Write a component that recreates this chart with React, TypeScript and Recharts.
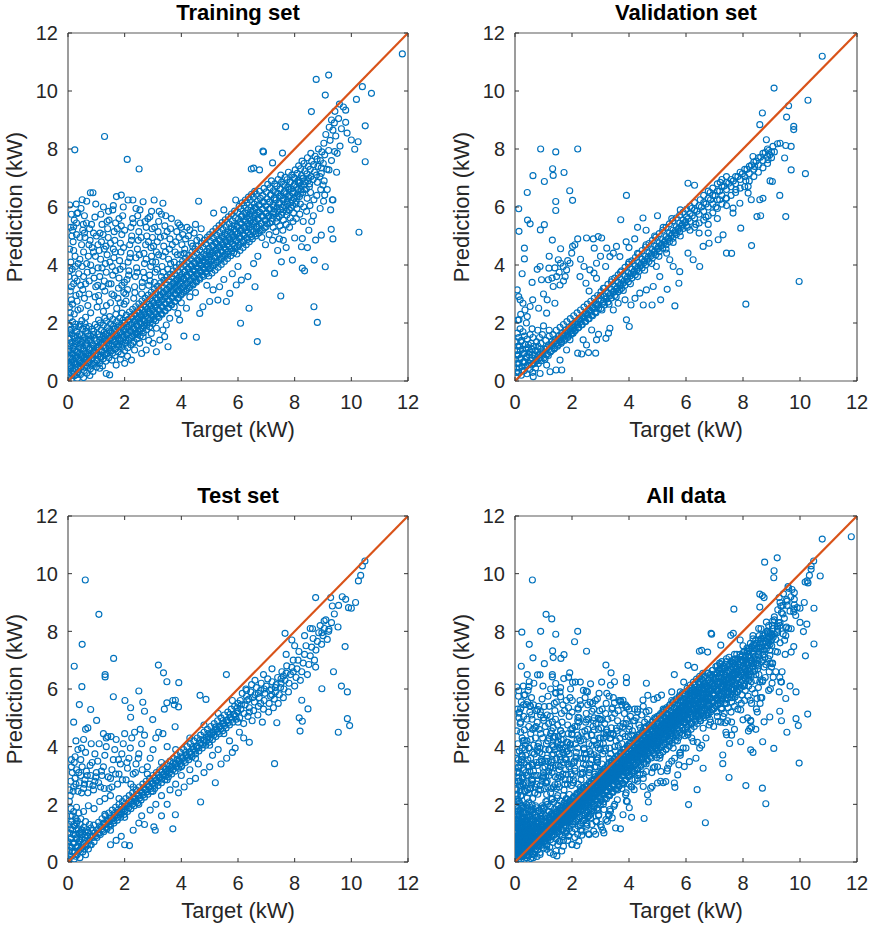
import React from "react";
import { ScatterChart, Scatter, XAxis, YAxis, ReferenceLine } from "recharts";

const AXIS_TICKS = [0, 2, 4, 6, 8, 10, 12];
const AXIS_DOMAIN = [0, 12];
const DIAGONAL = [[0, 0], [12, 12]];
const TITLES = ["Training set", "Validation set", "Test set", "All data"];
const X_LABEL = "Target (kW)";
const Y_LABEL = "Prediction (kW)";

// ---------- Training set ----------
const trainingBand = [
  [0.02,0.12],[0.04,0.38],[0.03,0.61],[0.06,0.84],[0.02,1.02],[0.05,1.21],[0.03,1.44],[0.08,1.66],[0.04,1.93],[0.07,2.18],
  [0.11,0.05],[0.13,0.27],[0.1,0.52],[0.15,0.73],[0.12,0.95],[0.17,1.12],[0.14,1.33],[0.19,1.55],[0.11,1.78],[0.16,2.04],
  [0.22,0.18],[0.24,0.43],[0.21,0.66],[0.26,0.88],[0.23,1.07],[0.28,1.28],[0.25,1.49],[0.3,1.71],[0.27,1.96],[0.22,2.31],
  [0.33,0.09],[0.35,0.32],[0.32,0.57],[0.37,0.79],[0.34,0.99],[0.39,1.19],[0.36,1.41],[0.41,1.62],[0.38,1.87],[0.35,2.45],
  [0.44,0.22],[0.46,0.47],[0.43,0.69],[0.48,0.92],[0.45,1.13],[0.5,1.34],[0.47,1.56],[0.52,1.8],[0.49,2.08],
  [0.55,0.12],[0.57,0.36],[0.54,0.6],[0.59,0.83],[0.56,1.04],[0.61,1.26],[0.58,1.49],[0.63,1.72],[0.6,1.98],
  [0.66,0.27],[0.68,0.51],[0.65,0.74],[0.7,0.97],[0.67,1.18],[0.72,1.4],[0.69,1.63],[0.74,1.88],
  [0.77,0.19],[0.79,0.42],[0.76,0.66],[0.81,0.88],[0.78,1.1],[0.83,1.32],[0.8,1.55],[0.85,1.79],
  [0.88,0.33],[0.9,0.57],[0.87,0.8],[0.92,1.02],[0.89,1.24],[0.94,1.47],[0.91,1.71],[0.96,1.95],
  [1.0,0.48],[1.02,0.72],[0.99,0.95],[1.04,1.17],[1.01,1.39],[1.06,1.62],[1.03,1.86],[1.08,2.1],
  [1.11,0.6],[1.13,0.84],[1.1,1.07],[1.15,1.3],[1.12,1.52],[1.17,1.76],[1.14,2.0],
  [1.22,0.52],[1.24,0.77],[1.21,1.0],[1.26,1.22],[1.23,1.45],[1.28,1.68],[1.25,1.92],[1.3,2.17],
  [1.33,0.68],[1.35,0.92],[1.32,1.14],[1.37,1.37],[1.34,1.6],[1.39,1.84],[1.36,2.07],
  [1.44,0.8],[1.46,1.04],[1.43,1.27],[1.48,1.5],[1.45,1.73],[1.5,1.97],[1.47,2.22],
  [1.55,0.72],[1.57,0.96],[1.54,1.19],[1.59,1.42],[1.56,1.65],[1.61,1.89],[1.58,2.12],
  [1.66,0.88],[1.68,1.12],[1.65,1.35],[1.7,1.58],[1.67,1.81],[1.72,2.05],[1.69,2.3],
  [1.77,1.0],[1.79,1.24],[1.76,1.47],[1.81,1.7],[1.78,1.93],[1.83,2.17],
  [1.88,0.92],[1.9,1.16],[1.87,1.39],[1.92,1.62],[1.89,1.85],[1.94,2.09],[1.91,2.34],
  [2.0,1.05],[2.02,1.3],[1.99,1.54],[2.04,1.78],[2.01,2.02],[2.06,2.27],
  [2.11,1.15],[2.13,1.4],[2.1,1.64],[2.15,1.88],[2.12,2.12],[2.17,2.38],
  [2.22,1.25],[2.24,1.5],[2.21,1.74],[2.26,1.98],[2.23,2.22],[2.28,2.47],
  [2.33,1.36],[2.35,1.6],[2.32,1.84],[2.37,2.08],[2.34,2.32],[2.39,2.56],
  [2.44,1.46],[2.46,1.7],[2.43,1.94],[2.48,2.18],[2.45,2.42],[2.5,2.66],
  [2.55,1.56],[2.57,1.8],[2.54,2.04],[2.59,2.28],[2.56,2.52],[2.61,2.76],
  [2.66,1.66],[2.68,1.9],[2.65,2.14],[2.7,2.38],[2.67,2.62],[2.72,2.86],
  [2.77,1.77],[2.79,2.01],[2.76,2.25],[2.81,2.49],[2.78,2.73],[2.83,2.96],
  [2.88,1.87],[2.9,2.11],[2.87,2.35],[2.92,2.59],[2.89,2.83],[2.94,3.06],
  [2.99,1.98],[3.01,2.22],[2.98,2.46],[3.03,2.7],[3.0,2.94],[3.05,3.16],
  [3.1,2.08],[3.12,2.32],[3.09,2.56],[3.14,2.8],[3.11,3.04],[3.16,3.27],
  [3.21,2.19],[3.23,2.43],[3.2,2.67],[3.25,2.91],[3.22,3.15],[3.27,3.38],
  [3.32,2.3],[3.34,2.54],[3.31,2.78],[3.36,3.02],[3.33,3.26],[3.38,3.48],
  [3.43,2.41],[3.45,2.65],[3.42,2.89],[3.47,3.13],[3.44,3.37],[3.49,3.59],
  [3.54,2.52],[3.56,2.76],[3.53,3.0],[3.58,3.24],[3.55,3.48],[3.6,3.69],
  [3.65,2.63],[3.67,2.87],[3.64,3.11],[3.69,3.35],[3.66,3.59],[3.71,3.8],
  [3.76,2.74],[3.78,2.98],[3.75,3.22],[3.8,3.46],[3.77,3.7],[3.82,3.91],
  [3.87,2.85],[3.89,3.09],[3.86,3.33],[3.91,3.57],[3.88,3.81],[3.93,4.02],
  [3.98,2.96],[4.0,3.2],[3.97,3.44],[4.02,3.68],[3.99,3.92],[4.04,4.12],
  [4.09,3.06],[4.11,3.3],[4.08,3.54],[4.13,3.78],[4.1,4.02],[4.15,4.23],
  [4.2,3.16],[4.22,3.4],[4.19,3.64],[4.24,3.88],[4.21,4.12],[4.26,4.33],
  [4.31,3.26],[4.33,3.5],[4.3,3.74],[4.35,3.98],[4.32,4.22],[4.37,4.44],
  [4.42,3.36],[4.44,3.6],[4.41,3.84],[4.46,4.08],[4.43,4.32],[4.48,4.55],
  [4.53,3.46],[4.55,3.7],[4.52,3.94],[4.57,4.18],[4.54,4.42],[4.59,4.65],
  [4.64,3.56],[4.66,3.8],[4.63,4.04],[4.68,4.28],[4.65,4.52],[4.7,4.76],
  [4.75,3.66],[4.77,3.9],[4.74,4.14],[4.79,4.38],[4.76,4.62],[4.81,4.86],
  [4.86,3.76],[4.88,4.0],[4.85,4.24],[4.9,4.48],[4.87,4.72],[4.92,4.96],
  [4.97,3.62],[4.99,3.86],[4.96,4.1],[5.01,4.34],[4.98,4.58],[5.03,4.82],[5.0,5.05],
  [5.08,3.72],[5.1,3.96],[5.07,4.2],[5.12,4.44],[5.09,4.68],[5.14,4.92],[5.11,5.15],
  [5.19,3.82],[5.21,4.06],[5.18,4.3],[5.23,4.54],[5.2,4.78],[5.25,5.02],[5.22,5.26],
  [5.3,3.92],[5.32,4.16],[5.29,4.4],[5.34,4.64],[5.31,4.88],[5.36,5.12],[5.33,5.36],
  [5.41,4.02],[5.43,4.26],[5.4,4.5],[5.45,4.74],[5.42,4.98],[5.47,5.22],[5.44,5.46],
  [5.52,4.12],[5.54,4.36],[5.51,4.6],[5.56,4.84],[5.53,5.08],[5.58,5.32],[5.55,5.56],
  [5.63,4.22],[5.65,4.46],[5.62,4.7],[5.67,4.94],[5.64,5.18],[5.69,5.42],[5.66,5.66],
  [5.74,4.32],[5.76,4.56],[5.73,4.8],[5.78,5.04],[5.75,5.28],[5.8,5.52],[5.77,5.76],
  [5.85,4.42],[5.87,4.66],[5.84,4.9],[5.89,5.14],[5.86,5.38],[5.91,5.62],[5.88,5.86],
  [5.96,4.38],[5.98,4.62],[5.95,4.86],[6.0,5.1],[5.97,5.34],[6.02,5.58],[5.99,5.82],[6.04,6.02],
  [6.07,4.5],[6.09,4.74],[6.06,4.98],[6.11,5.22],[6.08,5.46],[6.13,5.7],[6.1,5.94],[6.15,6.14],
  [6.18,4.6],[6.2,4.84],[6.17,5.08],[6.22,5.32],[6.19,5.56],[6.24,5.8],[6.21,6.04],[6.26,6.24],
  [6.29,4.7],[6.31,4.94],[6.28,5.18],[6.33,5.42],[6.3,5.66],[6.35,5.9],[6.32,6.14],[6.37,6.34],
  [6.4,4.8],[6.42,5.04],[6.39,5.28],[6.44,5.52],[6.41,5.76],[6.46,6.0],[6.43,6.24],[6.48,6.44],
  [6.51,4.9],[6.53,5.14],[6.5,5.38],[6.55,5.62],[6.52,5.86],[6.57,6.1],[6.54,6.34],[6.59,6.54],
  [6.62,5.0],[6.64,5.24],[6.61,5.48],[6.66,5.72],[6.63,5.96],[6.68,6.2],[6.65,6.44],
  [6.73,5.1],[6.75,5.34],[6.72,5.58],[6.77,5.82],[6.74,6.06],[6.79,6.3],[6.76,6.54],
  [6.84,4.95],[6.86,5.2],[6.83,5.44],[6.88,5.68],[6.85,5.92],[6.9,6.16],[6.87,6.4],[6.92,6.64],
  [6.97,4.7],[6.99,5.32],[6.96,5.56],[7.01,5.8],[6.98,6.04],[7.03,6.28],[7.0,6.52],[7.05,6.78],
  [7.1,5.05],[7.12,5.45],[7.09,5.7],[7.14,5.94],[7.11,6.18],[7.16,6.42],[7.13,6.66],[7.18,6.9],
  [7.22,4.85],[7.24,5.3],[7.21,5.6],[7.26,5.84],[7.23,6.08],[7.28,6.32],[7.25,6.56],[7.3,6.8],
  [7.34,5.15],[7.36,5.5],[7.33,5.76],[7.38,6.0],[7.35,6.24],[7.4,6.48],[7.37,6.72],[7.42,6.95],
  [7.46,4.9],[7.48,5.35],[7.45,5.66],[7.5,5.9],[7.47,6.14],[7.52,6.38],[7.49,6.62],[7.54,6.86],[7.51,7.1],
  [7.58,5.2],[7.6,5.55],[7.57,5.82],[7.62,6.06],[7.59,6.3],[7.64,6.54],[7.61,6.78],[7.66,7.02],
  [7.7,5.4],[7.72,5.72],[7.69,5.98],[7.74,6.22],[7.71,6.46],[7.76,6.7],[7.73,6.94],[7.78,7.2],
  [7.82,5.3],[7.84,5.62],[7.81,5.9],[7.86,6.14],[7.83,6.38],[7.88,6.62],[7.85,6.86],[7.9,7.1],
  [7.94,5.5],[7.96,5.8],[7.93,6.06],[7.98,6.3],[7.95,6.54],[8.0,6.78],[7.97,7.02],[8.02,7.28],
  [8.06,5.6],[8.08,5.95],[8.05,6.2],[8.1,6.44],[8.07,6.68],[8.12,6.92],[8.09,7.16],[8.14,7.42],
  [8.18,5.75],[8.2,6.1],[8.17,6.36],[8.22,6.6],[8.19,6.84],[8.24,7.08],[8.21,7.32],[8.26,7.58],
  [8.3,5.5],[8.32,6.0],[8.29,6.5],[8.34,6.76],[8.31,7.0],[8.36,7.24],[8.33,7.5],
  [8.42,5.85],[8.44,6.3],[8.41,6.62],[8.46,6.9],[8.43,7.14],[8.48,7.4],[8.45,7.7],
  [8.54,6.05],[8.56,6.5],[8.53,6.8],[8.58,7.05],[8.55,7.3],[8.6,7.58],[8.57,7.85],
  [8.66,5.7],[8.68,6.25],[8.65,6.95],[8.7,7.2],[8.67,7.46],[8.72,7.75],
  [8.78,6.4],[8.8,6.85],[8.77,7.1],[8.82,7.4],[8.79,7.65],[8.84,8.0],
  [8.9,5.95],[8.92,6.6],[8.89,7.05],[8.94,7.35],[8.91,7.6],[8.96,7.9],
  [9.02,6.2],[9.04,6.9],[9.01,7.5],[9.06,7.8],[9.03,8.2],[9.1,8.5],[9.14,7.3],
  [9.2,7.95],[9.25,8.3],[9.3,7.6],[9.35,8.65],[9.4,8.9],[9.45,8.45],[9.5,7.85],[9.55,9.05],[9.42,9.3],
  [9.6,8.1],[9.65,8.7],[9.3,9.0],[9.22,8.75],[9.15,6.6],[9.33,6.25],[9.48,7.2],[9.72,9.45],[9.85,8.55],[9.58,9.55],
];

const trainingCore = [
  [0.03,0.28],[0.06,0.52],[0.09,0.78],[0.04,1.08],[0.07,1.31],[0.1,0.42],[0.13,0.66],[0.17,0.93],[0.2,1.21],[0.18,0.33],
  [0.24,0.58],[0.27,0.79],[0.3,1.02],[0.26,1.36],[0.31,0.22],[0.35,0.47],[0.38,0.71],[0.41,0.93],[0.44,1.27],[0.47,0.61],
  [0.5,0.83],[0.53,1.12],[0.57,0.48],[0.6,0.71],[0.63,0.95],[0.66,1.31],[0.7,0.63],[0.73,0.86],[0.76,1.08],[0.79,1.42],
  [0.82,0.55],[0.85,0.77],[0.88,0.99],[0.91,1.2],[0.94,0.62],[0.97,0.88],[0.99,1.13],[0.15,1.62],[0.33,1.55],[0.52,1.4],
  [0.72,1.55],[0.9,1.6],[0.06,1.75],[0.24,1.85],[0.43,1.95],[0.64,1.85],
  [1.03,0.7],[1.06,0.93],[1.09,1.18],[1.12,1.41],[1.16,0.82],[1.19,1.06],[1.22,1.3],[1.25,1.55],[1.29,0.9],[1.32,1.16],
  [1.35,1.42],[1.38,1.64],[1.41,0.96],[1.44,1.21],[1.47,1.45],[1.5,1.7],[1.53,1.04],[1.56,1.29],[1.6,1.54],[1.63,1.78],
  [1.66,1.1],[1.69,1.37],[1.72,1.62],[1.75,1.86],[1.78,1.17],[1.81,1.42],[1.84,1.66],[1.87,1.92],[1.9,1.27],[1.93,1.5],
  [1.96,1.74],[1.99,1.99],
  [2.03,1.4],[2.06,1.63],[2.09,1.86],[2.12,2.1],[2.16,1.48],[2.19,1.72],[2.22,1.95],[2.25,2.2],[2.28,1.56],[2.31,1.8],
  [2.34,2.04],[2.37,2.29],[2.41,1.64],[2.44,1.89],[2.47,2.13],[2.5,2.37],[2.53,1.73],[2.56,1.98],[2.59,2.22],[2.62,2.46],
  [2.65,1.82],[2.68,2.06],[2.71,2.31],[2.74,2.55],[2.78,1.92],[2.81,2.16],[2.84,2.4],[2.87,2.64],[2.9,2.01],[2.93,2.26],
  [2.96,2.5],[2.99,2.74],
  [3.03,2.13],[3.06,2.37],[3.09,2.62],[3.12,2.86],[3.16,2.22],[3.19,2.46],[3.22,2.71],[3.25,2.96],[3.28,2.32],[3.31,2.57],
  [3.34,2.81],[3.37,3.06],[3.41,2.43],[3.44,2.67],[3.47,2.92],[3.5,3.16],[3.53,2.53],[3.56,2.78],[3.59,3.02],[3.62,3.27],
  [3.65,2.64],[3.68,2.88],[3.71,3.13],[3.74,3.37],[3.78,2.74],[3.81,2.99],[3.84,3.23],[3.87,3.48],[3.9,2.85],[3.93,3.1],
  [3.96,3.34],[3.99,3.58],
  [4.03,3.02],[4.06,3.26],[4.09,3.51],[4.12,3.75],[4.16,3.11],[4.19,3.36],[4.22,3.6],[4.25,3.85],[4.28,3.21],[4.31,3.46],
  [4.34,3.7],[4.37,3.95],[4.41,3.31],[4.44,3.56],[4.47,3.8],[4.5,4.05],[4.53,3.41],[4.56,3.66],[4.59,3.9],[4.62,4.15],
  [4.65,3.51],[4.68,3.76],[4.71,4.0],[4.74,4.25],[4.78,3.61],[4.81,3.86],[4.84,4.1],[4.87,4.35],[4.9,3.71],[4.93,3.96],
  [4.96,4.2],[4.99,4.45],
  [5.03,3.92],[5.06,4.16],[5.09,4.41],[5.12,4.65],[5.16,4.0],[5.19,4.25],[5.22,4.5],[5.25,4.74],[5.28,4.1],[5.31,4.35],
  [5.34,4.6],[5.37,4.85],[5.41,4.2],[5.44,4.45],[5.47,4.7],[5.5,4.95],[5.53,4.3],[5.56,4.55],[5.59,4.8],[5.62,5.05],
  [5.65,4.38],[5.68,4.63],[5.71,4.88],[5.74,5.13],[5.78,4.48],[5.81,4.73],[5.84,4.98],[5.87,5.23],[5.9,4.57],[5.93,4.82],
  [5.96,5.07],[5.99,5.32],
  [6.03,4.68],[6.06,4.92],[6.09,5.17],[6.12,5.42],[6.15,5.67],[6.18,4.78],[6.21,5.03],[6.24,5.28],[6.27,5.53],[6.3,5.78],
  [6.33,4.88],[6.36,5.13],[6.39,5.38],[6.42,5.63],[6.45,5.88],[6.48,4.98],[6.51,5.23],[6.54,5.48],[6.57,5.73],[6.6,5.98],
  [6.63,5.08],[6.66,5.33],[6.69,5.58],[6.72,5.83],[6.75,6.08],[6.78,5.18],[6.81,5.43],[6.84,5.68],[6.87,5.93],[6.9,6.18],
  [6.93,5.28],[6.96,5.53],[6.99,5.78],
  [7.03,5.42],[7.06,5.67],[7.09,5.92],[7.12,6.17],[7.15,6.42],[7.2,5.5],[7.23,5.75],[7.26,6.0],[7.29,6.25],[7.32,6.5],
  [7.37,5.62],[7.4,5.87],[7.43,6.12],[7.46,6.37],[7.49,6.62],[7.54,5.74],[7.57,5.99],[7.6,6.24],[7.63,6.49],[7.66,6.74],
  [7.71,5.85],[7.74,6.1],[7.77,6.35],[7.8,6.6],[7.83,6.85],[7.88,5.98],[7.91,6.23],[7.94,6.48],[7.97,6.73],[8.0,6.98],
  [8.05,6.1],[8.08,6.35],[8.11,6.6],[8.14,6.85],[8.2,6.45],[8.23,6.72],[8.27,6.98],[8.35,6.6],[8.38,6.88],[8.5,7.0],[8.52,6.7],
];

const trainingCloud = [
  [0.05,2.55],[0.12,2.8],[0.08,3.1],[0.2,3.35],[0.03,3.6],[0.15,3.85],[0.1,4.1],[0.25,4.3],[0.06,4.55],[0.18,4.8],
  [0.3,5.05],[0.09,5.3],[0.22,5.55],[0.35,5.8],[0.4,3.0],[0.45,3.3],[0.38,3.7],[0.5,3.95],[0.42,4.2],[0.55,4.45],
  [0.48,4.7],[0.6,4.95],[0.52,5.2],[0.65,5.45],[0.58,5.7],[0.7,2.6],[0.75,3.45],[0.68,3.75],[0.8,4.0],[0.72,4.3],
  [0.85,4.6],[0.78,4.85],[0.9,5.1],[0.83,5.4],[0.95,5.65],[0.98,3.25],[0.92,3.55],[0.62,2.2],[0.32,2.75],[0.26,3.95],
  [0.14,5.0],[0.46,5.95],[0.66,6.2],[0.55,3.6],[0.97,4.3],
  [1.03,2.55],[1.08,2.95],[1.05,3.3],[1.12,3.6],[1.06,3.9],[1.15,4.2],[1.1,4.5],[1.18,4.8],[1.13,5.1],[1.2,5.4],
  [1.16,5.75],[1.25,2.4],[1.3,3.1],[1.28,3.45],[1.35,3.75],[1.32,4.05],[1.38,4.35],[1.34,4.65],[1.42,4.95],[1.4,5.25],
  [1.45,5.55],[1.43,5.85],[1.5,2.7],[1.55,3.0],[1.52,3.35],[1.58,3.65],[1.56,3.95],[1.62,4.25],[1.6,4.55],[1.65,4.85],
  [1.63,5.15],[1.68,5.45],[1.72,2.5],[1.76,2.85],[1.78,3.2],[1.8,3.55],[1.84,3.85],[1.82,4.15],[1.87,4.45],[1.85,4.75],
  [1.9,5.05],[1.88,5.35],[1.93,5.7],[1.95,6.0],[1.98,2.65],[1.97,3.05],[1.99,3.4],
  [2.05,2.75],[2.1,3.15],[2.08,3.5],[2.15,3.8],[2.12,4.1],[2.2,4.4],[2.18,4.7],[2.25,5.0],[2.22,5.3],[2.28,5.6],
  [2.32,2.85],[2.35,3.25],[2.38,3.6],[2.42,3.9],[2.4,4.25],[2.45,4.55],[2.48,4.85],[2.5,5.15],[2.55,5.45],[2.54,5.9],
  [2.6,3.0],[2.62,3.4],[2.66,3.75],[2.7,4.05],[2.68,4.4],[2.74,4.7],[2.78,5.0],[2.76,5.3],[2.82,5.6],[2.89,5.66],
  [2.85,3.3],[2.88,3.65],[2.92,3.95],[2.95,4.3],[2.93,4.6],[2.98,4.95],[2.97,5.25],
  [3.05,3.4],[3.08,3.75],[3.1,4.1],[3.12,4.45],[3.15,4.8],[3.18,5.15],[3.2,5.5],[3.22,5.85],[3.3,3.6],[3.32,3.95],
  [3.35,4.3],[3.38,4.65],[3.4,5.0],[3.42,5.35],[3.45,5.7],[3.52,3.85],[3.55,4.2],[3.58,4.55],[3.6,4.9],[3.62,5.25],
  [3.65,5.6],[3.75,4.1],[3.78,4.45],[3.8,4.8],[3.84,5.15],[3.88,5.45],[3.94,5.38],[3.98,4.35],[4.02,4.7],[4.05,5.05],
  [4.12,4.55],[4.15,4.9],[4.2,5.3],[4.3,5.21],[4.35,4.75],[4.45,5.1],[4.5,5.4],[4.7,5.25],[4.65,4.95],
  [0.08,2.35],[0.16,2.65],[0.28,2.95],[0.12,3.25],[0.24,3.55],[0.06,3.8],[0.32,3.45],[0.44,2.5],[0.58,2.85],[0.52,3.15],
  [0.36,4.05],[0.2,4.5],[0.42,4.95],[0.16,5.2],[0.62,3.35],[0.74,3.0],[0.66,4.05],[0.86,3.8],[0.8,2.35],[0.96,2.9],
  [0.9,4.45],[0.74,4.7],[0.58,5.1],[0.3,5.45],[0.12,5.75],[0.54,5.4],[0.76,5.25],[1.0,5.0],[1.1,2.75],[1.22,3.25],
  [1.2,3.9],[1.28,4.55],[1.06,4.7],[1.24,5.05],[1.36,2.6],[1.44,3.35],[1.48,4.1],[1.5,4.75],[1.38,5.5],[1.62,2.95],
  [1.68,3.8],[1.66,4.45],[1.74,5.25],[1.58,5.9],[1.84,2.7],[1.9,3.3],[1.94,3.95],[1.96,4.6],[2.0,5.2],[1.8,5.6],
  [2.04,3.0],[2.14,3.65],[2.18,4.25],[2.24,4.85],[2.3,5.45],[2.36,3.05],[2.44,3.75],[2.52,4.35],[2.58,4.95],[2.46,5.7],
  [2.62,3.25],[2.7,3.55],[2.76,4.2],[2.84,4.8],[2.72,5.5],[2.9,3.45],[2.98,4.1],[3.02,4.65],[3.06,5.3],[3.14,3.85],
  [3.2,4.35],[3.26,4.95],[3.36,3.75],[3.44,4.45],[3.5,5.15],[3.62,4.05],[3.68,4.7],[3.86,4.35],[3.92,4.95],[4.1,4.4],
  [4.25,5.0],[4.4,4.65],[4.55,4.85],[4.0,5.3],[3.3,5.75],[2.95,5.85],[2.4,5.95],[1.6,6.05],[1.25,6.0],[0.98,6.1],[0.5,6.25],
];

const trainingLower = [
  [2.0,0.61],[2.24,0.72],[2.35,1.07],[2.76,1.07],[3.0,1.3],[3.12,1.01],[3.24,1.41],[3.41,1.53],[3.53,1.18],[3.35,1.76],
  [3.47,1.93],[3.12,1.82],[2.94,1.64],[2.65,1.53],[2.53,1.3],[2.29,1.3],[3.59,2.16],[3.88,2.33],[3.94,2.1],[4.18,2.51],
  [4.65,2.33],[4.76,2.56],[5.0,2.74],[5.29,2.79],[5.59,2.74],[5.71,3.02],[5.94,3.31],[6.12,3.48],[6.35,3.6],[5.35,3.25],
  [5.12,3.14],[1.35,0.26],[1.47,0.21],[1.12,0.44],[1.7,0.55],[1.85,0.75],[2.1,0.85],[2.6,0.95],[2.45,1.6],[2.85,1.4],
  [4.3,2.9],[4.5,3.05],[4.9,3.3],[5.5,3.5],[5.8,3.7],[6.0,3.95],[6.55,4.05],[6.7,4.3],[6.6,3.25],[4.0,2.7],[3.75,2.55],
];

const trainingOutliers = [
  [0.24,7.97],[1.29,8.43],[2.09,7.64],[2.51,7.31],[0.06,6.07],[0.29,6.1],[0.32,5.78],[0.2,5.32],[0.88,6.49],[0.79,6.49],
  [1.71,6.36],[1.88,6.41],[2.12,6.24],[2.29,6.24],[2.65,6.18],[3.04,6.24],[3.35,6.13],[4.61,6.2],[8.59,9.29],[8.76,10.4],
  [9.2,10.55],[9.08,9.86],[10.18,9.71],[10.39,10.15],[10.71,9.92],[11.8,11.28],[7.68,8.77],[9.8,9.34],[9.8,8.92],[10.49,8.8],
  [10.0,8.31],[10.24,8.25],[10.12,7.99],[10.49,7.56],[6.88,7.93],[6.76,7.28],[6.47,7.31],[6.55,7.34],[6.9,7.9],[7.22,7.52],
  [7.57,7.86],[9.41,7.91],[4.09,1.55],[4.53,1.51],[6.09,1.99],[6.39,2.51],[6.68,1.36],[7.51,2.93],[8.68,2.56],[8.8,2.02],
  [7.29,3.71],[8.27,3.89],[8.35,3.8],[9.08,3.94],[8.69,4.17],[9.29,5.23],[9.35,4.9],[10.27,5.13],[8.94,5.03],[8.74,4.86],
  [8.27,4.91],[8.0,4.93],[8.24,4.63],[7.92,4.17],[7.53,4.11],[9.27,5.9],[9.35,6.24],[9.06,6.41],[8.94,7.16],[9.0,6.76],
  [9.21,7.28],[5.92,6.24],[5.14,5.79],[5.5,5.9],[7.4,4.5],[7.7,4.6],[7.6,4.85],[8.5,5.2],[8.6,5.5],[8.45,4.6],
];

// ---------- Validation set ----------
const validationBand = [
  [0.03,0.15],[0.05,0.45],[0.02,0.75],[0.07,1.05],[0.04,1.35],[0.08,1.65],[0.12,0.3],[0.14,0.6],[0.11,0.9],[0.16,1.2],
  [0.13,1.5],[0.18,1.8],[0.22,0.2],[0.24,0.5],[0.21,0.8],[0.26,1.1],[0.23,1.4],[0.28,1.7],[0.32,0.35],[0.34,0.65],
  [0.31,0.95],[0.36,1.25],[0.33,1.55],[0.42,0.25],[0.44,0.55],[0.41,0.85],[0.46,1.15],[0.43,1.45],[0.52,0.4],[0.54,0.7],
  [0.51,1.0],[0.56,1.3],[0.53,1.6],[0.62,0.3],[0.64,0.6],[0.61,0.9],[0.66,1.2],[0.63,1.5],[0.72,0.45],[0.74,0.75],
  [0.71,1.05],[0.76,1.35],[0.82,0.6],[0.84,0.9],[0.81,1.2],[0.86,1.5],[0.92,0.7],[0.94,1.0],[0.91,1.3],[0.96,1.6],
  [0.1,2.1],[0.2,2.3],[0.4,2.0],[0.6,1.8],[0.8,1.75],[1.0,1.9],[1.2,1.75],
  [1.02,0.8],[1.05,1.1],[1.08,1.4],[1.15,0.95],[1.18,1.25],[1.2,1.55],[1.28,1.05],[1.3,1.35],[1.33,1.6],[1.4,1.15],
  [1.42,1.45],[1.45,1.75],[1.52,1.25],[1.55,1.55],[1.58,1.85],[1.64,1.35],[1.67,1.65],[1.7,1.95],[1.76,1.45],[1.79,1.75],
  [1.82,2.05],[1.88,1.55],[1.91,1.85],[1.94,2.15],[2.0,1.65],[2.03,1.95],[2.06,2.25],[2.12,1.75],[2.15,2.05],[2.18,2.35],
  [2.24,1.85],[2.27,2.15],[2.3,2.45],[2.36,1.95],[2.39,2.25],[2.42,2.55],[2.48,2.05],[2.51,2.35],[2.54,2.65],[2.6,2.15],
  [2.63,2.45],[2.66,2.75],[2.72,2.25],[2.75,2.55],[2.78,2.85],[2.84,2.35],[2.87,2.65],[2.9,2.95],
  [3.02,2.5],[3.02,2.8],[3.02,3.08],[3.14,2.62],[3.14,2.93],[3.14,3.2],[3.26,2.72],[3.26,3.04],[3.26,3.33],
  [3.38,2.86],[3.38,3.16],[3.38,3.42],[3.5,2.95],[3.5,3.27],[3.5,3.55],[3.62,3.08],[3.62,3.4],[3.62,3.66],
  [3.74,3.2],[3.74,3.5],[3.74,3.8],[3.86,3.3],[3.86,3.62],[3.86,3.92],[3.98,3.42],[3.98,3.73],[3.98,4.03],
  [4.1,3.55],[4.1,3.86],[4.1,4.14],[4.22,3.66],[4.22,3.97],[4.22,4.26],[4.34,3.78],[4.34,4.08],[4.34,4.38],
  [4.46,3.9],[4.46,4.2],[4.46,4.5],[4.58,4.0],[4.58,4.3],[4.58,4.62],[4.7,4.12],[4.7,4.42],[4.7,4.74],
  [4.82,4.24],[4.82,4.53],[4.82,4.85],[4.94,4.35],[4.94,4.65],[4.94,4.96],[5.06,4.46],[5.06,4.76],[5.06,5.08],
  [5.18,4.58],[5.18,4.87],[5.18,5.2],[5.3,4.7],[5.3,4.98],[5.3,5.3],[5.42,4.8],[5.42,5.1],[5.42,5.42],
  [5.54,4.92],[5.54,5.2],[5.54,5.52],[5.66,5.05],[5.66,5.32],[5.66,5.62],[5.78,5.15],[5.78,5.44],[5.78,5.72],
  [5.9,5.26],[5.9,5.55],[5.9,5.82],[6.02,5.36],[6.02,5.66],[6.02,5.92],
  [6.14,5.2],[6.14,5.5],[6.14,5.78],[6.14,6.02],[6.3,5.3],[6.3,5.62],[6.3,5.9],[6.3,6.15],
  [6.46,5.1],[6.46,5.45],[6.46,5.75],[6.46,6.05],[6.62,5.55],[6.62,5.85],[6.62,6.15],[6.62,6.4],
  [6.78,5.4],[6.78,5.7],[6.78,6.0],[6.78,6.3],[6.78,6.55],[6.94,5.8],[6.94,6.1],[6.94,6.4],[6.94,6.65],
  [7.1,5.6],[7.1,5.95],[7.1,6.25],[7.1,6.55],[7.1,6.8],[7.26,6.1],[7.26,6.4],[7.26,6.7],[7.26,6.95],
  [7.42,6.05],[7.42,6.3],[7.42,6.6],[7.42,6.85],[7.42,7.05],[7.58,6.4],[7.58,6.7],[7.58,6.95],
  [7.74,6.5],[7.74,6.8],[7.74,7.05],[7.9,6.65],[7.9,6.95],[7.9,7.2],[8.06,6.7],[8.06,7.05],[8.06,7.3],
  [8.22,6.9],[8.22,7.15],[8.22,7.4],[8.38,7.05],[8.38,7.3],[8.38,7.55],[8.54,7.2],[8.54,7.45],[8.54,7.7],
  [8.7,7.35],[8.7,7.6],[8.7,7.85],[8.86,7.5],[8.86,7.75],[8.86,8.0],[9.0,7.7],[9.0,7.9],
];

const validationCore = [
  [0.05,0.3],[0.08,0.6],[0.06,0.9],[0.1,1.2],[0.15,0.45],[0.17,0.75],[0.19,1.05],[0.2,1.35],[0.26,0.35],[0.28,0.65],
  [0.3,0.95],[0.38,0.5],[0.4,0.8],[0.39,1.1],[0.48,0.6],[0.5,0.9],[0.47,1.25],[0.58,0.55],[0.6,0.8],[0.58,1.1],
  [0.68,0.6],[0.7,0.9],[0.78,0.7],[0.8,1.0],[0.88,0.8],[0.9,1.1],[0.98,0.95],
  [1.1,0.9],[1.13,1.15],[1.24,1.0],[1.26,1.25],[1.37,1.1],[1.39,1.35],[1.49,1.2],[1.51,1.45],[1.62,1.3],[1.63,1.55],
  [1.73,1.4],[1.75,1.65],[1.85,1.5],[1.87,1.75],[1.97,1.6],[1.99,1.85],[2.09,1.72],[2.11,1.97],[2.21,1.83],[2.23,2.08],
  [2.33,1.93],[2.35,2.18],[2.45,2.05],[2.47,2.3],[2.57,2.15],[2.59,2.4],[2.69,2.27],[2.71,2.52],[2.81,2.38],[2.83,2.62],
  [2.93,2.5],[2.95,2.74],[3.08,2.68],[3.2,2.82],[3.32,2.93],[3.44,3.05],[3.56,3.17],[3.68,3.28],[3.8,3.38],[3.92,3.5],
  [4.04,3.62],[4.16,3.74],[4.28,3.84],[4.4,3.97],[4.52,4.08],[4.64,4.2],[4.76,4.3],[4.88,4.43],[5.0,4.55],[5.12,4.66],
  [5.24,4.78],[5.36,4.88],[5.48,5.0],[5.6,5.1],[5.72,5.22],[5.84,5.33],[5.96,5.45],[6.08,5.6],[6.22,5.7],[6.38,5.85],
  [6.54,6.0],[6.7,6.1],[6.86,6.25],[7.02,6.4],[7.18,6.55],[7.34,6.72],[7.5,6.82],[7.66,6.9],[7.82,7.05],[7.98,7.15],
  [8.14,7.3],[8.3,7.45],[8.46,7.58],[8.62,7.72],[8.78,7.88],[8.94,7.8],
  [1.05,0.75],[1.17,0.88],[1.31,1.22],[1.47,1.3],[1.6,1.42],[1.71,1.55],[1.83,1.62],[1.95,1.72],[2.07,1.85],[2.19,1.95],
  [2.31,2.05],[2.43,2.18],[2.55,2.28],[2.67,2.38],[2.79,2.5],[2.91,2.62],[3.0,2.95],[3.11,2.74],[3.23,2.88],[3.35,3.0],
  [3.47,3.1],[3.59,3.22],[3.71,3.34],[3.83,3.45],[3.95,3.58],[4.07,3.7],[4.19,3.8],[4.31,3.92],[4.43,4.03],[4.55,4.15],
  [4.67,4.27],[4.79,4.38],[4.91,4.5],[5.03,4.62],[5.15,4.72],[5.27,4.84],[5.39,4.94],[5.51,5.06],[5.63,5.18],[5.75,5.28],
  [5.87,5.4],[5.99,5.5],[3.05,2.45],[3.3,2.65],[3.55,2.9],[3.8,3.12],[4.05,3.35],[4.3,3.6],[4.55,3.82],[4.8,4.05],
  [5.05,4.3],[5.3,4.55],[5.55,4.78],[5.8,5.0],[6.05,5.3],[3.1,3.2],[3.4,3.5],[3.7,3.75],[4.0,4.1],[4.3,4.4],
  [4.6,4.7],[4.9,5.0],[5.2,5.3],[5.5,5.6],[5.8,5.9],[6.2,5.95],[6.5,6.25],[6.85,6.5],[7.2,6.85],[6.35,5.4],
  [6.7,5.65],[7.05,6.0],[7.4,6.3],[7.75,6.6],[8.1,6.9],
];

const validationCloud = [
  [0.9,8.0],[1.43,7.9],[2.2,8.0],[0.63,7.08],[1.03,6.88],[1.32,7.32],[1.34,7.09],[1.72,7.19],[0.43,6.5],[1.43,6.19],
  [1.43,5.88],[1.92,6.56],[2.02,6.23],[0.13,5.94],[0.44,5.55],[0.53,5.42],[0.14,5.16],[1.03,5.39],[0.89,5.21],[3.91,6.4],
  [3.71,5.56],[4.49,5.62],[5.0,5.7],[1.31,4.86],[2.2,4.9],[2.51,4.93],[2.75,4.9],[2.92,4.98],[3.04,4.93],[2.78,4.58],
  [2.02,4.64],[1.6,4.56],[0.33,4.58],[0.33,4.21],[3.22,4.58],[0.78,3.85],[0.88,3.95],[1.19,3.89],[1.52,4.18],[1.6,4.06],
  [1.69,3.95],[1.81,3.83],[1.46,3.6],[1.34,3.26],[1.58,3.31],[1.17,3.49],[0.93,3.49],[1.76,3.6],[1.93,4.06],[1.99,4.41],
  [2.1,4.7],[2.42,3.95],[2.63,3.83],[2.77,3.72],[2.86,3.54],[2.28,3.6],[2.49,3.37],[2.86,4.06],[3.18,3.95],[3.33,4.29],
  [3.45,4.41],[3.56,4.64],[3.68,4.29],[0.13,2.91],[0.08,3.14],[0.18,2.8],[0.28,2.68],[0.35,2.45],[0.43,2.22],[0.14,2.11],
  [0.62,2.8],[0.53,2.57],[0.83,2.51],[1.11,2.34],[1.4,2.68],[1.13,2.8],[4.2,4.9],[4.6,5.2],[4.0,4.6],[3.9,4.8],
  [4.3,5.3],[1.0,3.0],[0.6,3.4],[0.25,3.7],[1.2,4.3],[2.3,4.2],[3.0,4.3],[2.6,3.1],[6.07,6.82],[6.3,6.75],
  [1.4,3.9],[1.55,3.75],[1.7,3.45],[1.85,4.15],[1.3,3.55],
];

const validationLower = [
  [2.2,0.96],[2.34,0.93],[2.58,0.98],[2.83,0.96],[1.44,0.38],[1.64,0.38],[2.93,1.61],[3.19,1.47],[3.28,1.65],[3.33,1.82],
  [2.86,1.42],[3.91,2.11],[4.01,1.88],[4.07,2.62],[4.5,2.62],[4.81,2.62],[5.11,2.8],[5.61,2.59],[5.34,3.16],[5.75,3.37],
  [5.78,3.77],[4.85,3.26],[4.38,3.03],[4.61,3.14],[4.21,2.85],[3.86,2.8],[3.68,3.14],[3.45,2.45],[3.62,2.68],[2.69,1.76],
  [2.39,1.42],[2.04,1.65],[2.51,1.24],[1.93,1.42],[1.81,1.07],[1.58,0.72],[1.11,0.55],[0.88,0.26],[1.23,0.32],[0.64,0.15],
  [6.25,4.18],[6.48,3.95],[6.07,4.41],[5.55,3.95],[5.43,4.18],[5.08,3.6],[4.96,3.95],[5.32,4.41],
  [6.6,4.64],[6.81,4.75],[6.78,5.1],[7.13,4.87],[7.3,5.04],[7.42,4.41],[7.65,5.79],[7.89,6.13],[7.18,6.25],[7.65,5.96],
  [8.18,6.48],[8.29,6.25],[8.59,6.25],[7.6,4.4],
];

const validationOutliers = [
  [9.05,8.09],[8.82,8.32],[8.59,8.84],[8.68,9.24],[9.53,9.1],[9.6,9.49],[10.28,9.68],[9.09,10.1],[10.78,11.2],[9.78,8.67],
  [9.78,8.78],[9.5,8.12],[9.21,8.18],[9.69,8.09],[8.88,7.63],[9.46,7.69],[9.03,6.88],[8.35,7.74],[8.41,7.4],[8.18,6.71],
  [9.69,7.28],[10.19,7.15],[9.29,6.4],[9.5,5.67],[8.62,5.7],[8.49,5.67],[8.3,4.67],[7.92,5.27],[8.1,2.65],[9.97,3.43],
  [8.7,6.3],[8.95,6.9],[9.3,8.2],[9.1,7.9],[8.9,7.95],
];

// ---------- Test set ----------
const testBand = [
  [0.03,0.1],[0.05,0.4],[0.02,0.7],[0.06,1.0],[0.04,1.3],[0.08,1.6],[0.12,0.2],[0.14,0.5],[0.11,0.8],[0.16,1.1],
  [0.13,1.4],[0.22,0.1],[0.24,0.35],[0.21,0.65],[0.26,0.95],[0.23,1.25],[0.28,1.5],[0.32,0.25],[0.34,0.55],[0.31,0.85],
  [0.36,1.15],[0.33,1.42],[0.42,0.15],[0.44,0.45],[0.41,0.75],[0.46,1.05],[0.43,1.3],[0.52,0.35],[0.54,0.65],[0.51,0.95],
  [0.56,1.2],[0.62,0.25],[0.64,0.55],[0.61,0.85],[0.66,1.12],[0.72,0.45],[0.74,0.75],[0.71,1.02],[0.76,1.3],[0.82,0.6],
  [0.84,0.9],[0.81,1.18],[0.92,0.7],[0.94,1.0],[0.91,1.28],[0.1,1.85],[0.2,1.75],[0.05,2.1],[0.38,1.7],
  [1.02,0.85],[1.05,1.12],[1.08,1.38],[1.14,0.95],[1.17,1.22],[1.2,1.5],[1.26,1.05],[1.29,1.32],[1.32,1.6],[1.38,1.15],
  [1.41,1.42],[1.44,1.7],[1.5,1.25],[1.53,1.52],[1.56,1.8],[1.62,1.35],[1.65,1.62],[1.68,1.9],[1.74,1.45],[1.77,1.72],
  [1.8,2.0],[1.86,1.55],[1.89,1.82],[1.92,2.1],[1.98,1.65],[2.01,1.92],[2.04,2.2],[2.1,1.75],[2.13,2.02],[2.16,2.3],
  [2.22,1.85],[2.25,2.12],[2.28,2.4],[2.34,1.95],[2.37,2.22],[2.4,2.5],[2.46,2.05],[2.49,2.32],[2.52,2.6],[2.58,2.15],
  [2.61,2.42],[2.64,2.7],[2.7,2.25],[2.73,2.52],[2.76,2.8],[2.82,2.35],[2.85,2.62],[2.88,2.9],[2.94,2.45],[2.97,2.72],
  [3.0,3.0],[3.06,2.55],[3.09,2.82],[3.12,3.1],[3.18,2.65],[3.21,2.92],[3.24,3.2],[3.3,2.75],[3.33,3.02],[3.36,3.3],
  [3.42,2.85],[3.45,3.12],[3.48,3.4],[3.54,2.95],[3.57,3.22],[3.6,3.5],[3.66,3.05],[3.69,3.32],[3.72,3.6],[3.78,3.15],
  [3.81,3.42],[3.84,3.7],[3.9,3.25],[3.93,3.52],[3.96,3.8],[4.02,3.35],[4.05,3.62],[4.08,3.9],[4.14,3.45],[4.17,3.72],
  [4.2,4.0],[4.26,3.55],[4.29,3.82],[4.32,4.1],[4.38,3.65],[4.41,3.92],[4.44,4.2],[4.5,3.75],[4.53,4.02],[4.56,4.3],
  [4.62,3.85],[4.65,4.12],[4.68,4.4],[4.74,3.95],[4.77,4.22],[4.8,4.5],[4.86,4.05],[4.89,4.32],[4.92,4.6],[4.98,4.15],
  [5.01,4.42],[5.04,4.7],[5.1,4.25],[5.13,4.52],[5.16,4.8],[5.22,4.35],[5.25,4.62],[5.28,4.9],[5.34,4.45],[5.37,4.72],
  [5.4,5.0],[5.46,4.55],[5.49,4.82],[5.52,5.1],[5.58,4.65],[5.61,4.92],[5.64,5.2],[5.7,4.75],[5.73,5.02],[5.76,5.3],
  [5.82,4.85],[5.85,5.12],[5.88,5.4],[5.94,4.95],[5.97,5.22],[6.0,5.5],
  [6.06,5.0],[6.1,5.3],[6.08,5.6],[6.15,5.85],[6.2,4.8],[6.22,5.15],[6.25,5.45],[6.3,5.75],[6.28,6.0],[6.35,5.05],
  [6.4,5.35],[6.38,5.65],[6.45,5.9],[6.48,6.15],[6.5,4.9],[6.55,5.25],[6.58,5.55],[6.6,5.8],[6.65,6.05],[6.7,5.1],
  [6.72,5.4],[6.75,5.7],[6.8,5.95],[6.82,6.2],[6.86,4.85],[6.9,5.3],[6.92,5.6],[6.95,5.85],[7.0,6.1],[7.05,6.35],
  [7.08,5.2],[7.1,5.5],[7.15,5.75],[7.18,6.0],[7.2,6.25],[7.25,5.35],[7.28,5.65],[7.32,5.9],[7.35,6.15],[7.4,6.4],
  [7.42,5.5],[7.46,5.8],[7.5,6.05],[7.52,6.35],[7.55,6.6],[7.6,5.7],[7.62,6.0],[7.66,6.3],[7.7,6.55],[7.72,6.8],
  [7.78,5.9],[7.8,6.2],[7.85,6.5],[7.9,6.75],[7.95,7.0],[8.0,6.1],[8.05,6.4],[8.08,6.7],[8.12,7.0],[8.15,7.3],
  [8.2,6.3],[8.25,6.6],[8.3,6.9],[8.35,7.2],[8.4,7.5],[8.45,6.5],[8.5,6.85],[8.55,7.15],[8.6,7.45],[8.65,7.75],
  [8.7,7.0],[8.75,7.35],[8.8,7.65],[8.85,7.95],[8.9,8.2],[8.95,7.55],[9.0,7.85],[9.05,8.1],[9.1,8.4],[9.2,8.0],
  [9.3,8.3],[9.4,8.6],[9.55,8.9],
];

const testCore = [
  [0.05,0.25],[0.07,0.55],[0.09,0.85],[0.1,1.15],[0.15,0.35],[0.18,0.65],[0.19,0.95],[0.2,1.3],[0.27,0.2],[0.29,0.5],
  [0.3,0.8],[0.29,1.1],[0.38,0.4],[0.39,0.7],[0.4,1.0],[0.48,0.5],[0.49,0.8],[0.5,1.1],[0.58,0.45],[0.59,0.75],
  [0.6,1.05],[0.68,0.6],[0.69,0.9],[0.78,0.6],[0.79,0.9],[0.88,0.85],[0.89,1.1],[0.98,0.9],[0.15,1.6],[0.3,1.35],
  [0.45,1.5],[0.62,1.4],
  [1.1,1.0],[1.12,1.25],[1.23,1.1],[1.25,1.35],[1.36,1.2],[1.38,1.45],[1.49,1.32],[1.51,1.57],[1.62,1.43],[1.64,1.68],
  [1.75,1.55],[1.77,1.8],[1.88,1.67],[1.9,1.92],[2.01,1.78],[2.03,2.02],[2.14,1.88],[2.16,2.12],[2.27,2.0],[2.29,2.24],
  [2.4,2.1],[2.42,2.35],[2.53,2.22],[2.55,2.46],[2.66,2.33],[2.68,2.57],[2.79,2.44],[2.81,2.68],[2.92,2.55],[2.94,2.79],
  [3.05,2.66],[3.07,2.9],[3.18,2.77],[3.2,3.0],[3.31,2.88],[3.33,3.12],[3.44,2.98],[3.46,3.22],[3.57,3.09],[3.59,3.33],
  [3.7,3.2],[3.72,3.44],[3.83,3.3],[3.85,3.55],[3.96,3.41],[3.98,3.65],[4.1,3.52],[4.23,3.63],[4.36,3.74],[4.49,3.85],
  [4.62,3.96],[4.75,4.07],[4.88,4.18],[5.01,4.29],[5.14,4.4],[5.27,4.51],[5.4,4.62],[5.53,4.73],[5.66,4.84],[5.79,4.95],
  [5.92,5.06],[4.16,3.8],[4.42,4.0],[4.68,4.25],[4.94,4.45],[5.2,4.68],[5.46,4.9],[5.72,5.12],[5.98,5.35],[6.12,5.45],
  [6.32,5.6],[6.52,5.7],[6.72,5.85],[6.92,6.0],[7.12,5.95],[7.32,6.05],[7.52,6.2],
  [1.04,1.0],[1.19,1.15],[1.33,1.3],[1.46,1.4],[1.59,1.5],[1.72,1.62],[1.84,1.73],[1.97,1.85],[2.1,1.95],[2.22,2.06],
  [2.35,2.17],[2.48,2.28],[2.61,2.38],[2.74,2.5],[2.87,2.6],[3.0,2.72],[3.13,2.83],[3.26,2.94],[3.39,3.05],[3.52,3.16],
  [3.65,3.27],[3.78,3.38],[3.91,3.49],[4.04,3.58],[4.17,3.68],[4.3,3.79],[4.43,3.9],[4.56,4.01],[4.69,4.12],[4.82,4.23],
  [4.95,4.34],[5.08,4.45],[5.21,4.56],[5.34,4.67],[5.47,4.78],[5.6,4.89],[5.73,5.0],[5.86,5.11],[5.99,5.22],[1.5,1.1],
  [2.0,1.55],[2.5,2.0],[3.0,2.45],[3.5,2.85],[4.0,3.3],[4.5,3.6],[5.0,4.05],[5.5,4.45],[6.0,4.85],[1.3,1.65],
  [1.8,2.2],[2.3,2.6],[2.8,3.05],[3.3,3.45],[3.8,3.9],[4.3,4.3],[4.8,4.75],[5.3,5.15],[5.8,5.6],[6.3,5.95],
  [6.6,6.3],[6.9,6.5],[7.2,6.7],[6.4,5.2],[6.8,5.5],[7.2,5.8],[7.6,6.45],[7.95,6.6],
];

const testCloud = [
  [0.05,2.5],[0.1,2.8],[0.15,3.1],[0.2,2.6],[0.25,2.9],[0.3,3.2],[0.22,3.45],[0.35,2.45],[0.4,2.75],[0.45,3.0],
  [0.5,3.3],[0.55,2.55],[0.6,2.85],[0.65,3.15],[0.7,2.4],[0.75,2.7],[0.8,3.0],[0.85,3.45],[0.9,2.5],[0.95,2.8],
  [1.0,3.1],[0.48,3.95],[0.55,4.25],[0.62,4.6],[0.7,4.65],[0.35,3.9],[0.12,3.55],[0.28,4.2],[1.05,3.5],[1.1,4.1],
  [1.15,2.6],[1.2,3.0],[1.25,3.3],[1.3,3.7],[1.35,4.0],[1.4,4.35],[1.45,2.55],[1.5,2.9],[1.55,3.2],[1.6,3.55],
  [1.65,3.9],[1.7,4.25],[1.52,4.35],[1.75,2.7],[1.8,3.05],[1.85,3.4],[1.9,3.75],[1.95,4.1],[2.0,4.45],[2.05,2.85],
  [2.1,3.25],[2.15,3.6],[2.2,3.95],[2.25,4.3],[2.3,3.05],[2.4,3.4],[2.5,3.75],[2.6,4.1],[2.7,4.4],[2.55,4.6],
  [2.35,4.5],[1.25,4.45],[1.35,4.3],[2.8,3.3],[2.9,3.6],[3.0,3.9],[3.1,4.3],[3.2,4.5],[3.35,4.45],[3.5,4.0],
  [3.4,5.3],[3.7,5.6],[3.75,5.45],
  [0.08,2.3],[0.18,2.45],[0.28,2.7],[0.38,3.1],[0.48,2.4],[0.58,2.7],[0.68,3.0],[0.78,3.35],[0.88,2.65],[0.98,2.95],
  [0.12,3.3],[0.25,3.65],[0.45,3.55],[0.62,3.8],[0.82,4.1],[0.95,3.75],[1.08,2.75],[1.18,3.15],[1.28,2.55],[1.42,2.95],
  [1.55,2.6],[1.68,3.05],[1.78,3.55],[1.92,2.85],[2.08,3.45],[2.22,2.7],[2.38,3.1],[2.48,3.6],[2.62,3.2],[0.3,1.9],
  [0.55,1.75],[0.72,1.95],[0.92,1.85],[1.12,2.1],[1.3,2.2],[1.5,2.3],
];

const testLower = [
  [1.7,0.75],[1.5,0.6],[2.3,1.1],[2.5,1.35],[3.3,1.6],[3.5,2.0],[3.9,2.4],[4.1,2.6],[4.3,2.8],[4.5,2.9],
  [4.8,3.1],[5.0,3.3],[5.2,2.75],[5.4,3.4],[5.6,3.6],[5.8,3.8],[5.9,3.95],[5.7,4.2],[6.05,4.5],[6.2,4.3],
  [6.4,4.15],[5.3,3.9],[5.1,3.7],[4.6,3.4],[4.3,3.2],[4.0,3.0],[3.8,2.7],[3.6,2.5],[3.3,2.3],[3.1,2.0],
  [2.9,1.8],[2.6,1.6],
];

const testOutliers = [
  [0.61,9.78],[1.09,8.59],[0.5,7.55],[0.22,6.79],[1.61,7.06],[1.31,6.5],[1.31,6.42],[0.49,6.08],[0.4,5.46],[0.2,4.85],
  [0.8,5.29],[1.01,4.91],[1.6,5.73],[2.01,5.6],[2.5,5.93],[2.21,5.35],[2.21,5.02],[2.64,5.54],[2.7,5.23],[2.99,4.94],
  [3.19,6.83],[3.37,6.56],[3.49,6.25],[3.91,6.22],[3.49,5.52],[3.79,5.61],[3.9,5.38],[3.78,4.69],[4.66,5.78],[4.87,5.64],
  [5.59,6.5],[7.66,7.93],[7.37,4.83],[7.29,3.41],[4.68,2.08],[3.79,1.64],[3.7,1.15],[3.03,1.22],[3.08,1.1],[2.7,1.3],
  [2.17,0.57],[2.0,0.6],[1.88,0.89],[8.16,5.0],[8.19,4.54],[8.27,4.88],[8.47,5.31],[8.25,5.61],[8.74,6.76],[8.96,6.01],
  [9.37,6.6],[9.65,6.1],[9.86,5.9],[9.78,7.47],[9.54,4.5],[9.86,4.97],[9.94,4.73],[8.74,9.17],[9.27,9.17],[9.68,9.2],
  [9.8,9.11],[9.33,8.88],[10.15,9.0],[9.9,8.82],[10.0,8.8],[10.33,9.94],[10.25,9.75],[10.48,10.44],[10.39,10.27],[8.63,8.09],
  [8.96,7.95],[9.15,7.72],[9.21,8.07],[9.53,8.15],[9.04,8.36],[7.9,7.7],[8.0,7.5],[7.7,7.2],[8.35,7.85],[8.55,8.1],
];

// ---------- assembly ----------
const toRows = (pts) => pts.map(([x, y]) => ({ x, y }));
const training = toRows([...trainingBand, ...trainingCore, ...trainingCloud, ...trainingLower, ...trainingOutliers]);
const validation = toRows([...validationBand, ...validationCore, ...validationCloud, ...validationLower, ...validationOutliers]);
const test = toRows([...testBand, ...testCore, ...testCloud, ...testLower, ...testOutliers]);
const allData = [...training, ...validation, ...test];
const SETS = [training, validation, test, allData];
const diagonalRows = toRows(DIAGONAL);

const FONT = '"Liberation Sans", Arial, Helvetica, sans-serif';
const PAGE_W = 872;
const PAGE_H = 932;
const X_AXIS_H = 30;
const Y_AXIS_W = 50;
const FRAMES = [
  { l: 68, r: 408, t: 33, b: 381 },
  { l: 515, r: 857, t: 33, b: 381 },
  { l: 68, r: 408, t: 516, b: 862 },
  { l: 515, r: 857, t: 516, b: 862 },
];
const BOX = "#5a5a5a";
const TICK = "#333333";
const TEXT = "#262626";
const BLUE = "#0072BD";
const RED = "#D95319";
const TICK_LEN = 4;

const renderDot = (props) => {
  const { cx, cy } = props;
  if (cx == null || cy == null) return <g />;
  return <circle cx={cx} cy={cy} r={3} fill="none" stroke={BLUE} strokeWidth={1.15} />;
};
const noDot = () => <g />;

function Panel({ frame, points }) {
  const pw = frame.r - frame.l;
  const ph = frame.b - frame.t;
  const xTick = (props) => {
    const { x, y, payload } = props;
    return (
      <g>
        <line x1={x} y1={y} x2={x} y2={y - TICK_LEN} stroke={TICK} strokeWidth={1} />
        <line x1={x} y1={y - ph} x2={x} y2={y - ph + TICK_LEN} stroke={TICK} strokeWidth={1} />
        <text x={x} y={y + 21} dy="0.36em" textAnchor="middle" fontSize={20} fill={TEXT} fontFamily={FONT}>
          {payload.value}
        </text>
      </g>
    );
  };
  const yTick = (props) => {
    const { x, y, payload } = props;
    return (
      <g>
        <line x1={x} y1={y} x2={x + TICK_LEN} y2={y} stroke={TICK} strokeWidth={1} />
        <line x1={x + pw} y1={y} x2={x + pw - TICK_LEN} y2={y} stroke={TICK} strokeWidth={1} />
        <text x={x - 10} y={y} dy="0.36em" textAnchor="end" fontSize={20} fill={TEXT} fontFamily={FONT}>
          {payload.value}
        </text>
      </g>
    );
  };
  return (
    <div style={{ position: "absolute", left: 0, top: 0 }}>
      <ScatterChart
        width={PAGE_W}
        height={PAGE_H}
        margin={{
          left: frame.l - Y_AXIS_W,
          top: frame.t,
          right: PAGE_W - frame.r,
          bottom: PAGE_H - frame.b - X_AXIS_H,
        }}
      >
        <XAxis
          type="number"
          dataKey="x"
          domain={AXIS_DOMAIN}
          ticks={AXIS_TICKS}
          interval={0}
          height={X_AXIS_H}
          tickSize={0}
          tickMargin={0}
          tickLine={false}
          axisLine={{ stroke: BOX, strokeWidth: 1.2 }}
          tick={xTick}
          allowDataOverflow
        />
        <YAxis
          type="number"
          dataKey="y"
          domain={AXIS_DOMAIN}
          ticks={AXIS_TICKS}
          interval={0}
          width={Y_AXIS_W}
          tickSize={0}
          tickMargin={0}
          tickLine={false}
          axisLine={{ stroke: BOX, strokeWidth: 1.2 }}
          tick={yTick}
          allowDataOverflow
        />
        <ReferenceLine y={12} stroke={BOX} strokeWidth={1.2} ifOverflow="visible" />
        <ReferenceLine x={12} stroke={BOX} strokeWidth={1.2} ifOverflow="visible" />
        <Scatter data={points} isAnimationActive={false} shape={renderDot} />
        <Scatter
          data={diagonalRows}
          isAnimationActive={false}
          line={{ stroke: RED, strokeWidth: 2.2 }}
          shape={noDot}
        />
      </ScatterChart>
    </div>
  );
}

export default function App() {
  return (
    <div
      style={{
        position: "absolute",
        left: 0,
        top: 0,
        width: PAGE_W,
        height: PAGE_H,
        background: "#ffffff",
        fontFamily: FONT,
        overflow: "hidden",
      }}
    >
      {FRAMES.map((f, i) => (
        <Panel key={i} frame={f} points={SETS[i]} />
      ))}
      <svg
        width={PAGE_W}
        height={PAGE_H}
        style={{ position: "absolute", left: 0, top: 0, pointerEvents: "none" }}
      >
        {FRAMES.map((f, i) => {
          const cx = (f.l + f.r) / 2;
          const cy = (f.t + f.b) / 2;
          const bx = f.l - 46;
          return (
            <g key={i} fontFamily={FONT}>
              <text x={cx} y={f.t - 13} textAnchor="middle" fontSize={22} fontWeight="bold" fill="#000">
                {TITLES[i]}
              </text>
              <text x={cx} y={f.b + 56} textAnchor="middle" fontSize={22} fill={TEXT}>
                {X_LABEL}
              </text>
              <text x={bx} y={cy} transform={`rotate(-90 ${bx} ${cy})`} textAnchor="middle" fontSize={22} fill={TEXT}>
                {Y_LABEL}
              </text>
            </g>
          );
        })}
      </svg>
    </div>
  );
}
